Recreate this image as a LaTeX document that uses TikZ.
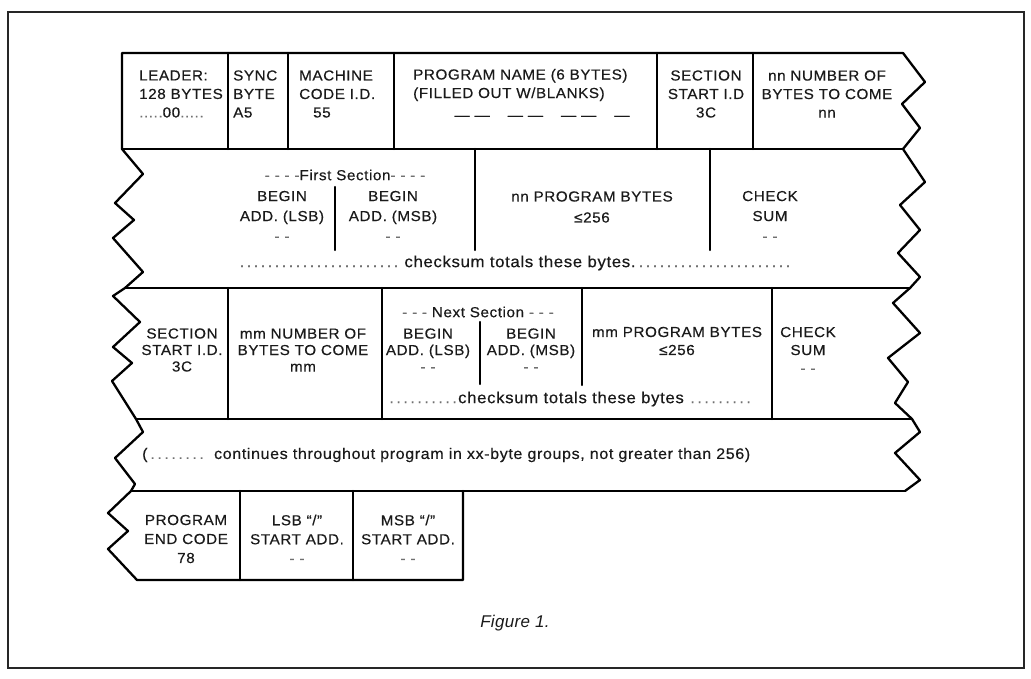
\documentclass[tikz,border=0pt]{standalone}
\usepackage{fontspec}
\setmainfont{Liberation Sans}
\newfontfamily\diag{Liberation Sans}[LetterSpace=4,FakeStretch=1.05,FakeBold=0.4]
\newfontfamily\capfont{Liberation Sans}[LetterSpace=2]
\definecolor{ink}{HTML}{1A1A1A}
\definecolor{dotc}{HTML}{707070}
\newcommand\dleader[1]{\leavevmode\leaders\hbox to 7pt{\hss\textcolor{dotc}{.}\hss}\hskip #1\relax}
\newcommand\dd[1]{\textcolor{dotc}{#1}}
\tikzset{
  rule/.style={line width=2.3pt, line join=round, line cap=round, draw=black},
  frame/.style={line width=1.4pt, draw=black!85},
  txt/.style={font=\diag\fontsize{14.5}{#1}\selectfont, inner sep=0pt, text=ink, align=center},
  txt/.default=18.5,
  txtl/.style={txt=#1, align=left},
  txtl/.default=18.5,
  lower/.style={font=\diag\fontsize{#1}{18}\selectfont},
}
\begin{document}
\begin{tikzpicture}[x=1pt,y=-1pt]
\useasboundingbox (0,0) rectangle (1031,679);
\fill[white] (0,0) rectangle (1031,679);
\draw[frame] (8,12) rectangle (1024,668);

% outer outline: left zigzag edge and row-5 box
\draw[rule] (903,53) -- (122,53) -- (122,149) -- (143,174) -- (115,203) -- (134,220) -- (113,238) -- (143,272) -- (125,288) -- (113,296) -- (140,322) -- (113,347) -- (132,363) -- (112,381) -- (136,419) -- (143,432) -- (115,458) -- (135,484) -- (131,491) -- (108,513) -- (128,531) -- (108,549) -- (137,580) -- (463,580) -- (463,491);
% right zigzag edge
\draw[rule] (903,53) -- (925,82) -- (902,104) -- (920,128) -- (903,149) -- (925,182) -- (900,205) -- (920,230) -- (898,253) -- (920,277) -- (910,288) -- (893,303) -- (920,333) -- (888,358) -- (908,382) -- (895,403) -- (912,419) -- (920,432) -- (895,453) -- (920,480) -- (905,491);
% row boundaries
\draw[rule] (122,149) -- (903,149);
\draw[rule] (125,288) -- (910,288);
\draw[rule] (136,419) -- (912,419);
\draw[rule] (131,491) -- (905,491);
% row 1 dividers
\foreach \x in {228,288,394,657,753} \draw[rule] (\x,53) -- (\x,149);
% row 2 dividers
\draw[rule] (475,149) -- (475,250);
\draw[rule] (335,187) -- (335,250);
\draw[rule] (710,149) -- (710,250);
% row 3 dividers
\draw[rule] (228,288) -- (228,419);
\draw[rule] (382,288) -- (382,419);
\draw[rule] (480,322) -- (480,384);
\draw[rule] (582,288) -- (582,385);
\draw[rule] (772,288) -- (772,419);
% row 5 dividers
\draw[rule] (240,491) -- (240,580);
\draw[rule] (353,491) -- (353,580);

% row 1 texts
\node[txtl, anchor=west] (leader) at (139,94) {LEADER:\\128 BYTES\\\dd{.....}00\dd{.....}};
\node[txtl, anchor=west] (sync) at (233,94) {SYNC\\BYTE\\A5};
\node[txtl, anchor=west] (mach) at (299,94) {MACHINE\\CODE I.D.\\\hspace*{14pt}55};
\node[txtl, anchor=west] (pname) at (413,85) {PROGRAM NAME (6 BYTES)\\(FILLED OUT W/BLANKS)};
\node[txt] (blanks) at (542,118) {— —\hspace{18pt}— —\hspace{18pt}— —\hspace{18pt}—};
\node[txt] (sect) at (706,94) {SECTION\\START I.D\\3C};
\node[txt] (nnum) at (827,94) {nn NUMBER OF\\BYTES TO COME\\nn};

% row 2 texts
\node[txt] (first) at (345,175) {\dd{- - - -}First Section\dd{- - - -}};
\node[txt=20] (lsb1) at (282,216) {BEGIN\\ADD. (LSB)\\\dd{- -}};
\node[txt=20] (msb1) at (393,216) {BEGIN\\ADD. (MSB)\\\dd{- -}};
\node[txt=21] (nnprog) at (592,207) {nn PROGRAM BYTES\\≤256};
\node[txt=20] (chk1) at (770,216) {CHECK\\SUM\\\dd{- -}};
\node[txt, lower=16] (cs1) at (517,263) {\dleader{166pt}checksum totals these bytes.\dleader{160pt}};

% row 3 texts
\node[txt=16.5] (sect2) at (182,350) {SECTION\\START I.D.\\3C};
\node[txt=16.5] (mnum) at (303,350) {mm NUMBER OF\\BYTES TO COME\\mm};
\node[txt] (next) at (478,312) {\dd{- - -} Next Section \dd{- - -}};
\node[txt=16.5] (lsb2) at (428,350) {BEGIN\\ADD. (LSB)\\\dd{- -}};
\node[txt=16.5] (msb2) at (531,350) {BEGIN\\ADD. (MSB)\\\dd{- -}};
\node[txt=18] (mmprog) at (677,341) {mm PROGRAM BYTES\\≤256};
\node[txt=18] (chk2) at (808,350) {CHECK\\SUM\\\dd{- -}};
\node[txt, lower=16] (cs2) at (571,399) {\dleader{70pt}checksum totals these bytes\dleader{70pt}};

% row 4 text
\node[txt, lower=15.3, anchor=west] (cont) at (142,455) {(\dleader{64pt}\,continues throughout program in xx-byte groups, not greater than 256)};

% row 5 texts
\node[txt=19] (endc) at (186,539) {PROGRAM\\END CODE\\78};
\node[txt=19] (lsbs) at (297,539) {LSB “/”\\START ADD.\\\dd{- -}};
\node[txt=19] (msbs) at (408,539) {MSB “/”\\START ADD.\\\dd{- -}};

% caption
\node[font=\capfont\itshape\fontsize{17}{19}\selectfont, text=ink, inner sep=0pt] (fig) at (515,623) {Figure 1.};
\end{tikzpicture}
\end{document}
